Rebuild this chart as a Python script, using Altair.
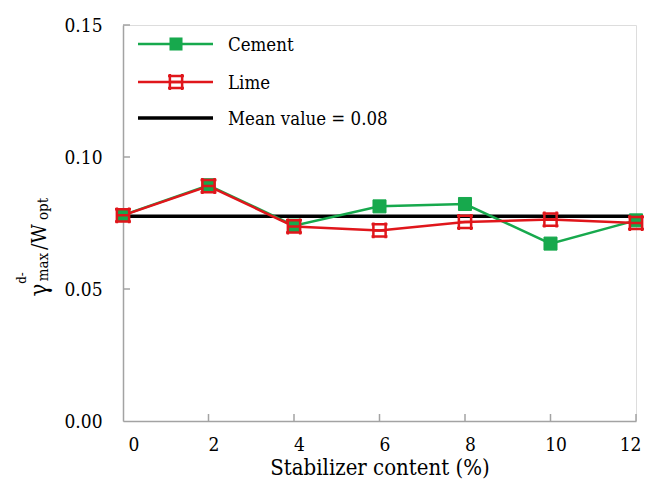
import altair as alt
import pandas as pd

# ---- data ----
content = [0, 2, 4, 6, 8, 10, 12]
cement = [0.0780, 0.0893, 0.0740, 0.0813, 0.0822, 0.0672, 0.0760]
lime = [0.0779, 0.0890, 0.0737, 0.0722, 0.0754, 0.0763, 0.0750]
mean_value = 0.0776
x_ticks = [2, 4, 6, 8, 10, 12]
y_ticks = [0.05, 0.10, 0.15]
legend_labels = ["Cement", "Lime", "Mean value = 0.08"]

W, H = 513, 396
GREEN = "#17a94d"
RED = "#e0161b"
AXIS = "#a3a3a3"
FONT = "DejaVu Serif Condensed, DejaVu Serif, serif"

df_c = pd.DataFrame({"x": content, "y": cement})
df_l = pd.DataFrame({"x": content, "y": lime})
df_m = pd.DataFrame({"y": [mean_value]})
df_xt = pd.DataFrame({"x": x_ticks})
df_yt = pd.DataFrame({"y": y_ticks})
one = pd.DataFrame({"a": [0]})

xscale = alt.Scale(domain=[0, 12], nice=False, zero=False)
yscale = alt.Scale(domain=[0, 0.15], nice=False)

xax = alt.Axis(values=[0] + x_ticks, format="d", tickSize=0,
               labelPadding=14, labelOffset=5, labelFontSize=19, labelFont=FONT,
               labelColor="#000", domainColor=AXIS, domainWidth=1.5,
               title="Stabilizer content (%)", titleFontSize=22, titleFont=FONT,
               titleFontWeight="normal", titleColor="#000", titlePadding=3,
               grid=False)
yax = alt.Axis(values=[0, 0.05, 0.10, 0.15], format=".2f", tickSize=0,
               labelPadding=21, labelFontSize=19, labelFont=FONT,
               labelColor="#000", domainColor=AXIS, domainWidth=1.5,
               title=None, grid=False)

base_x = alt.X("x:Q", scale=xscale, axis=xax)
base_y = alt.Y("y:Q", scale=yscale, axis=yax)

mean_rule = alt.Chart(df_m).mark_rule(color="#000", strokeWidth=3.5).encode(
    y=alt.Y("y:Q", scale=yscale, axis=yax))

c_line = alt.Chart(df_c).mark_line(color=GREEN, strokeWidth=2.5).encode(x=base_x, y=base_y)
c_pts = alt.Chart(df_c).mark_point(shape="square", filled=True, color=GREEN, size=170,
                                   opacity=1, stroke=GREEN, strokeWidth=1).encode(x=base_x, y=base_y)

hash_shape = "M-1,-1.3V1.3M1,-1.3V1.3M-1.3,-1H1.3M-1.3,1H1.3M-1,0H1"
l_line = alt.Chart(df_l).mark_line(color=RED, strokeWidth=2.5).encode(x=base_x, y=base_y)
l_pts = alt.Chart(df_l).mark_point(shape=hash_shape, filled=False, color=RED, size=150,
                                   opacity=1, strokeWidth=2.5).encode(x=base_x, y=base_y)

xt = alt.Chart(df_xt).mark_rule(color=AXIS, strokeWidth=1.5).encode(
    x=alt.X("x:Q", scale=xscale), y=alt.value(H), y2=alt.value(H - 7))
yt = alt.Chart(df_yt).mark_rule(color=AXIS, strokeWidth=1.5).encode(
    y=alt.Y("y:Q", scale=yscale), x=alt.value(0), x2=alt.value(7))

leg_y = [19, 57, 93]
leg_colors = [GREEN, RED, "#000"]
leg_widths = [2.5, 2.5, 3.5]
legend_layers = []
for i in range(3):
    legend_layers.append(alt.Chart(one).mark_rule(color=leg_colors[i], strokeWidth=leg_widths[i]).encode(
        x=alt.value(15), x2=alt.value(90), y=alt.value(leg_y[i])))
    legend_layers.append(alt.Chart(one).mark_text(text=legend_labels[i], align="left", baseline="middle",
                                                  font=FONT, fontSize=18.5, color="#000").encode(
        x=alt.value(105), y=alt.value(leg_y[i] + 1)))
legend_layers.append(alt.Chart(one).mark_point(shape="square", filled=True, color=GREEN, size=170,
                                               opacity=1).encode(x=alt.value(53), y=alt.value(leg_y[0])))
legend_layers.append(alt.Chart(one).mark_point(shape=hash_shape, filled=False, color=RED, size=150,
                                               opacity=1, strokeWidth=2.5).encode(x=alt.value(53), y=alt.value(leg_y[1])))

title_parts = [("γ", -83, 265, 24), ("max", -80, 242, 15), ("d-", -101, 253, 13),
               ("/W", -83, 212, 21), ("opt", -80, 184, 15)]
title_layers = []
for txt, tx, ty, fs in title_parts:
    title_layers.append(alt.Chart(one).mark_text(text=txt, angle=270, align="center", baseline="middle",
                                                 font=FONT, fontSize=fs, color="#000").encode(
        x=alt.value(tx), y=alt.value(ty)))

chart = alt.layer(
    mean_rule, c_line, l_line, c_pts, l_pts, xt, yt, *legend_layers, *title_layers
).properties(
    width=W, height=H,
    padding={"left": 123, "top": 25, "right": 23, "bottom": 69},
    autosize=alt.AutoSizeParams(type="none"),
).configure_view(stroke=None).configure(background="white")

chart.save("out.html", embed_options={"renderer": "svg", "actions": False})
